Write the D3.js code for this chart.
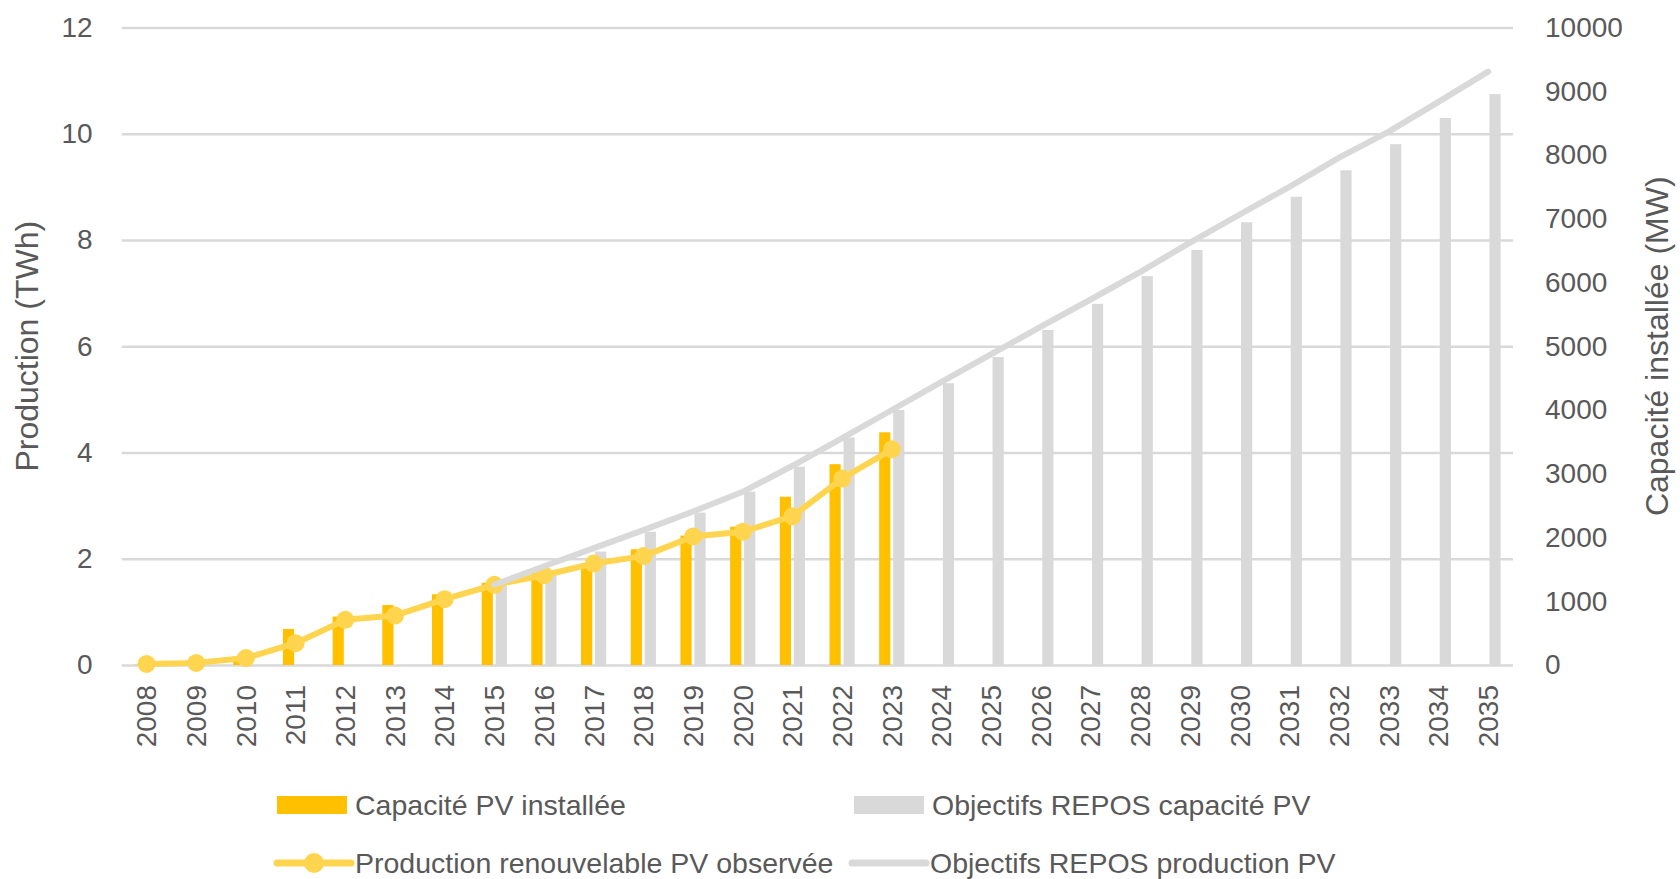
<!DOCTYPE html>
<html lang="fr">

<head>
  <meta charset="utf-8">
  <title>Photovoltaïque : capacité et production</title>
  <script src="https://cdn.jsdelivr.net/npm/d3@7"></script>
  <style>
    body {
      margin: 0;
      background: #fff;
    }

    text {
      font-family: 'Liberation Sans', Arial, sans-serif;
      fill: #595959;
    }

    .axis path {
      display: none;
    }

    .axis line {
      stroke: none;
    }

    .axis text {
      font-size: 28px;
    }

    .grid line {
      stroke: #d9d9d9;
      stroke-width: 2.5;
    }
  </style>
</head>

<body>
  <div id="chart"></div>
  <script>
    // années (catégories)
    const years = ['2008', '2009', '2010', '2011', '2012', '2013', '2014', '2015', '2016', '2017',
      '2018', '2019', '2020', '2021', '2022', '2023', '2024', '2025', '2026', '2027',
      '2028', '2029', '2030', '2031', '2032', '2033', '2034', '2035']

    // capacité PV installée (MW, axe de droite)
    const capaciteInstallee = [5, 25, 80, 565, 760, 940, 1110, 1290, 1440, 1600,
      1815, 2030, 2170, 2640, 3150, 3650, null, null, null, null,
      null, null, null, null, null, null, null, null]

    // objectifs REPOS capacité PV (MW, axe de droite)
    const objectifsCapacite = [null, null, null, null, null, null, null, 1250, 1480, 1780,
      2090, 2390, 2720, 3110, 3570, 4000, 4420, 4830, 5255, 5665,
      6100, 6510, 6945, 7345, 7760, 8170, 8580, 8955]

    // production renouvelable PV observée (TWh, axe de gauche)
    const productionObservee = [0.02, 0.04, 0.13, 0.41, 0.85, 0.93, 1.24, 1.51, 1.69, 1.91,
      2.05, 2.42, 2.51, 2.8, 3.51, 4.06, null, null, null, null,
      null, null, null, null, null, null, null, null]

    // objectifs REPOS production PV (TWh, axe de gauche)
    const objectifsProduction = [null, null, null, null, null, null, null, 1.51, 1.86, 2.2,
      2.54, 2.89, 3.26, 3.75, 4.27, 4.8, 5.33, 5.85, 6.37, 6.88,
      7.4, 7.95, 8.48, 9.0, 9.55, 10.04, 10.6, 11.17]

    const leftTicks = [0, 2, 4, 6, 8, 10, 12]
    const rightTicks = [0, 1000, 2000, 3000, 4000, 5000, 6000, 7000, 8000, 9000, 10000]

    const yellowBar = '#ffc000'
    const yellowLine = '#ffd44f'
    const grey = '#d9d9d9'

    const width = 1680
    const height = 879
    const plot = { left: 121.7, right: 1513, top: 27.5, bottom: 665 }

    const svg = d3.select('#chart')
      .append('svg')
      .attr('width', width)
      .attr('height', height)

    // échelles
    const x = d3.scaleBand().domain(years).range([plot.left, plot.right]).padding(0)
    const xInner = d3.scaleBand().domain(['cap', 'obj']).range([-12.7, 12.5]).paddingInner(0.2)
    const yLeft = d3.scaleLinear().domain([0, 12]).range([plot.bottom, plot.top])
    const yRight = d3.scaleLinear().domain([0, 10000]).range([plot.bottom, plot.top])
    const cx = d => x(d) + x.bandwidth() / 2

    // quadrillage
    svg.append('g')
      .attr('class', 'grid')
      .attr('transform', `translate(${plot.left},0)`)
      .call(d3.axisLeft(yLeft).tickValues(leftTicks).tickSize(-(plot.right - plot.left)).tickFormat(''))
      .call(g => g.select('.domain').remove())

    // axes
    svg.append('g')
      .attr('class', 'axis')
      .attr('transform', `translate(${plot.left},0)`)
      .call(d3.axisLeft(yLeft).tickValues(leftTicks).tickSize(0).tickPadding(29))

    svg.append('g')
      .attr('class', 'axis')
      .attr('transform', `translate(${plot.right},0)`)
      .call(d3.axisRight(yRight).tickValues(rightTicks).tickFormat(d3.format('d')).tickSize(0).tickPadding(32))

    svg.append('g')
      .attr('class', 'axis')
      .attr('transform', `translate(0,${plot.bottom})`)
      .call(d3.axisBottom(x).tickSize(0))
      .selectAll('text')
      .attr('transform', 'rotate(-90)')
      .attr('x', -20)
      .attr('y', 0)
      .attr('dy', '0.35em')
      .style('text-anchor', 'end')

    // titres des axes
    const midY = (plot.top + plot.bottom) / 2
    svg.append('text')
      .attr('transform', `translate(38,${midY}) rotate(-90)`)
      .attr('text-anchor', 'middle')
      .style('font-size', '32px')
      .text('Production (TWh)')

    svg.append('text')
      .attr('transform', `translate(1668,${midY}) rotate(-90)`)
      .attr('text-anchor', 'middle')
      .style('font-size', '32px')
      .text('Capacité installée (MW)')

    // barres
    const barRows = years.map((year, i) => ({ year, cap: capaciteInstallee[i], obj: objectifsCapacite[i] }))
    const groups = svg.append('g')
      .selectAll('g')
      .data(barRows)
      .enter()
      .append('g')
      .attr('transform', d => `translate(${cx(d.year)},0)`)

    groups.selectAll('rect')
      .data(d => [{ key: 'cap', value: d.cap }, { key: 'obj', value: d.obj }].filter(v => v.value != null))
      .enter()
      .append('rect')
      .attr('x', d => xInner(d.key))
      .attr('width', xInner.bandwidth())
      .attr('y', d => yRight(d.value))
      .attr('height', d => plot.bottom - yRight(d.value))
      .attr('fill', d => d.key === 'cap' ? yellowBar : grey)

    // courbes
    const line = d3.line()
      .defined(d => d.value != null)
      .x(d => cx(d.year))
      .y(d => yLeft(d.value))

    const observed = years.map((year, i) => ({ year, value: productionObservee[i] }))
    const targets = years.map((year, i) => ({ year, value: objectifsProduction[i] }))

    svg.append('path')
      .datum(observed)
      .attr('d', line)
      .attr('fill', 'none')
      .attr('stroke', yellowLine)
      .attr('stroke-width', 6)
      .attr('stroke-linejoin', 'round')
      .attr('stroke-linecap', 'round')

    svg.append('g')
      .selectAll('circle')
      .data(observed.filter(d => d.value != null))
      .enter()
      .append('circle')
      .attr('cx', d => cx(d.year))
      .attr('cy', d => yLeft(d.value))
      .attr('r', 9)
      .attr('fill', yellowLine)

    svg.append('path')
      .datum(targets)
      .attr('d', line)
      .attr('fill', 'none')
      .attr('stroke', grey)
      .attr('stroke-width', 6)
      .attr('stroke-linejoin', 'round')
      .attr('stroke-linecap', 'round')

    // légende
    const legendItems = [
      { label: 'Capacité PV installée', type: 'bar', color: yellowBar, x: 277, y: 805 },
      { label: 'Objectifs REPOS capacité PV', type: 'bar', color: grey, x: 854, y: 805 },
      { label: 'Production renouvelable PV observée', type: 'marker', color: yellowLine, x: 277, y: 863 },
      { label: 'Objectifs REPOS production PV', type: 'line', color: grey, x: 852, y: 863 }
    ]

    const legend = svg.append('g')
      .selectAll('g')
      .data(legendItems)
      .enter()
      .append('g')
      .attr('transform', d => `translate(${d.x},${d.y})`)

    legend.filter(d => d.type === 'bar')
      .append('rect')
      .attr('x', 0)
      .attr('y', -9)
      .attr('width', 70)
      .attr('height', 18)
      .attr('fill', d => d.color)

    legend.filter(d => d.type !== 'bar')
      .append('line')
      .attr('x1', 0)
      .attr('x2', 74)
      .attr('stroke', d => d.color)
      .attr('stroke-width', 7)
      .attr('stroke-linecap', 'round')

    legend.filter(d => d.type === 'marker')
      .append('circle')
      .attr('cx', 37)
      .attr('r', 10)
      .attr('fill', d => d.color)

    legend.append('text')
      .attr('x', 78)
      .attr('dy', '0.35em')
      .style('font-size', '28.5px')
      .text(d => d.label)
  </script>
</body>

</html>
